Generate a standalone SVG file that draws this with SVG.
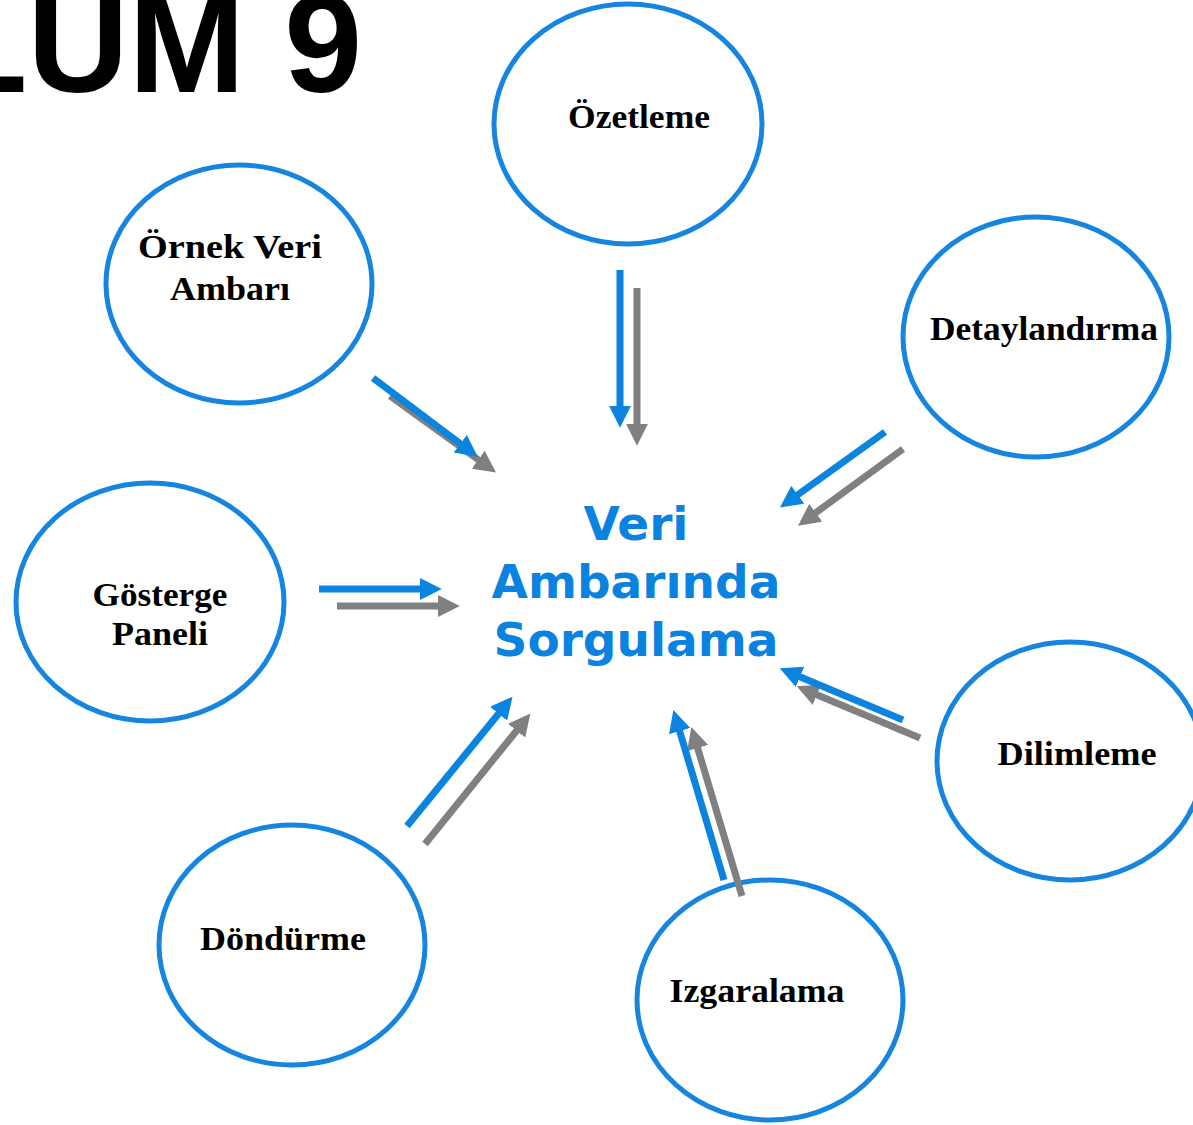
<svg xmlns="http://www.w3.org/2000/svg" width="1193" height="1125" viewBox="0 0 1193 1125">
<style>
.node ellipse{fill:none;stroke:#1585e0;stroke-width:5}
.lbl{font-family:"Liberation Serif","Times New Roman",serif;font-weight:bold;font-size:33px;fill:#000;text-anchor:middle}
.b{stroke:#0b84e0;stroke-width:7;fill:none;marker-end:url(#hb)}
.g{stroke:#808080;stroke-width:7;fill:none;marker-end:url(#hg)}
.center{font-family:"DejaVu Sans",Verdana,sans-serif;font-weight:bold;font-size:47px;fill:#0a82e0;text-anchor:middle}
</style>
<defs>
<marker id="hb" viewBox="0 0 10 10" markerUnits="userSpaceOnUse" markerWidth="22" markerHeight="22" refX="1" refY="5" orient="auto"><path d="M0,0 L10,5 L0,10 z" fill="#0b84e0"/></marker>
<marker id="hg" viewBox="0 0 10 10" markerUnits="userSpaceOnUse" markerWidth="22" markerHeight="22" refX="1" refY="5" orient="auto"><path d="M0,0 L10,5 L0,10 z" fill="#808080"/></marker>
</defs>
<rect width="1193" height="1125" fill="#fff"/>
<text x="362" y="92" font-family="Liberation Sans,Arial,sans-serif" font-weight="bold" font-size="140" text-anchor="end" fill="#000">LUM 9</text>
<g id="center"><text class="center"><tspan x="636" y="540">Veri</tspan><tspan x="636" y="598">Ambarında</tspan><tspan x="636" y="656">Sorgulama</tspan></text></g>
<g id="ozetleme" class="node"><ellipse cx="628" cy="124" rx="134" ry="120"/><text class="lbl" x="639" y="128" textLength="142" lengthAdjust="spacingAndGlyphs">Özetleme</text></g>
<g id="ornek" class="node"><ellipse cx="239" cy="284" rx="133" ry="119"/><text class="lbl"><tspan x="230" y="258" textLength="184" lengthAdjust="spacingAndGlyphs">Örnek  Veri</tspan></text><text class="lbl"><tspan x="230" y="300" textLength="120" lengthAdjust="spacingAndGlyphs">Ambarı</tspan></text></g>
<g id="detay" class="node"><ellipse cx="1036" cy="337" rx="133" ry="120"/><text class="lbl" x="1044" y="340" textLength="228" lengthAdjust="spacingAndGlyphs">Detaylandırma</text></g>
<g id="gosterge" class="node"><ellipse cx="150" cy="602" rx="134" ry="119"/><text class="lbl" x="160" y="606" textLength="135" lengthAdjust="spacingAndGlyphs">Gösterge</text><text class="lbl" x="160" y="645" textLength="96" lengthAdjust="spacingAndGlyphs">Paneli</text></g>
<g id="dilimleme" class="node"><ellipse cx="1070" cy="761" rx="133" ry="119"/><text class="lbl" x="1077" y="765" textLength="159" lengthAdjust="spacingAndGlyphs">Dilimleme</text></g>
<g id="dondurme" class="node"><ellipse cx="292" cy="945" rx="133" ry="120"/><text class="lbl" x="283" y="950" textLength="166" lengthAdjust="spacingAndGlyphs">Döndürme</text></g>
<g id="izgaralama" class="node"><ellipse cx="770" cy="1000" rx="133" ry="120"/><text class="lbl" x="757" y="1002" textLength="175" lengthAdjust="spacingAndGlyphs">Izgaralama</text></g>
<g id="connectors">
<line class="g" x1="390" y1="396" x2="480" y2="461"/>
<line class="b" x1="373" y1="378" x2="462" y2="445"/>
<line class="g" x1="637" y1="288" x2="637" y2="426"/>
<line class="b" x1="620" y1="270" x2="620" y2="408"/>
<line class="g" x1="903" y1="449" x2="814" y2="514"/>
<line class="b" x1="885" y1="432" x2="796" y2="496"/>
<line class="g" x1="337" y1="606" x2="440" y2="606"/>
<line class="b" x1="319" y1="589" x2="422" y2="589"/>
<line class="g" x1="920" y1="738" x2="815" y2="694"/>
<line class="b" x1="903" y1="720" x2="798" y2="676"/>
<line class="g" x1="425" y1="844" x2="518" y2="729"/>
<line class="b" x1="407" y1="826" x2="500" y2="712"/>
<line class="g" x1="742" y1="896" x2="697" y2="746"/>
<line class="b" x1="724" y1="880" x2="679" y2="729"/>
</g>
</svg>
